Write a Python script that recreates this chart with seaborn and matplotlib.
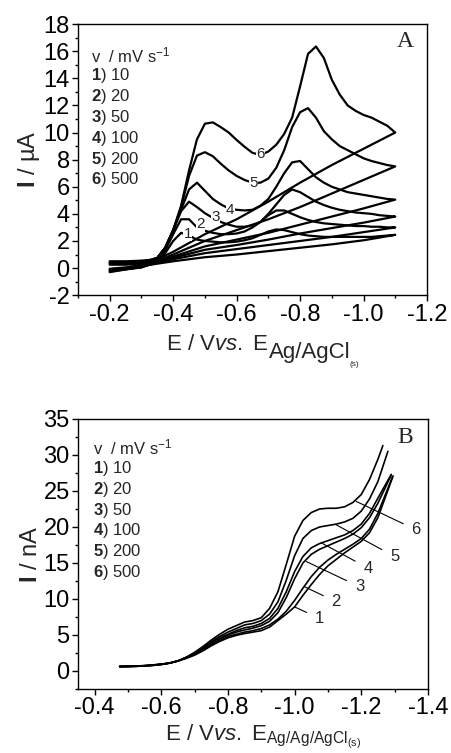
import numpy as np
import pandas as pd
import seaborn as sns
import matplotlib.pyplot as plt
from matplotlib.ticker import MultipleLocator

sns.set_style("ticks")
plt.rcParams['font.family'] = ['Liberation Sans', 'DejaVu Sans']
plt.rcParams['axes.unicode_minus'] = False
plt.rcParams['mathtext.fontset'] = 'custom'
plt.rcParams['mathtext.rm'] = 'Liberation Sans'
plt.rcParams['mathtext.it'] = 'Liberation Sans:italic'
plt.rcParams['mathtext.bf'] = 'Liberation Sans:bold'

# ---------------- Panel A: cyclic voltammograms (I / uA) ----------------
rates = [10, 20, 50, 100, 200, 500]

# forward scan potentials, -0.200 ... -1.100 V
E_A_fwd = [-0.200, -0.225, -0.250, -0.275, -0.300, -0.325, -0.350, -0.375, -0.400,
           -0.425, -0.450, -0.475, -0.500, -0.525, -0.550, -0.575, -0.600, -0.625,
           -0.650, -0.675, -0.700, -0.725, -0.750, -0.775, -0.800, -0.825, -0.850,
           -0.875, -0.900, -0.925, -0.950, -0.975, -1.000, -1.025, -1.050, -1.075, -1.100]
# reverse scan potentials
E_A_rev = [-1.1, -1.0, -0.9, -0.8, -0.7, -0.6, -0.5, -0.4, -0.3, -0.2]

fwd_1 = [0.25, 0.25, 0.25, 0.27, 0.30, 0.35, 0.55, 1.10, 2.00, 2.60, 2.40, 2.10, 2.00,
         1.95, 1.90, 1.90, 1.95, 2.05, 2.20, 2.45, 2.70, 2.85, 2.80, 2.65, 2.50, 2.40,
         2.35, 2.30, 2.30, 2.30, 2.30, 2.30, 2.30, 2.30, 2.35, 2.40, 2.45]
fwd_2 = [0.30, 0.30, 0.30, 0.32, 0.35, 0.40, 0.65, 1.30, 2.50, 3.60, 3.60, 3.00, 2.75,
         2.60, 2.50, 2.50, 2.55, 2.70, 3.00, 3.40, 3.90, 4.25, 4.25, 4.00, 3.75, 3.55,
         3.40, 3.30, 3.25, 3.20, 3.15, 3.10, 3.10, 3.05, 3.05, 3.00, 3.00]
fwd_3 = [0.35, 0.35, 0.35, 0.37, 0.40, 0.45, 0.75, 1.50, 2.80, 4.20, 4.90, 4.50, 4.05,
         3.70, 3.40, 3.20, 3.05, 3.05, 3.15, 3.40, 4.00, 4.70, 5.40, 5.80, 5.60, 5.25,
         4.90, 4.65, 4.45, 4.30, 4.20, 4.10, 4.05, 4.00, 3.90, 3.85, 3.80]
fwd_4 = [0.40, 0.40, 0.40, 0.42, 0.45, 0.50, 0.75, 1.50, 2.80, 4.30, 5.80, 6.30, 5.70,
         5.10, 4.70, 4.40, 4.30, 4.25, 4.30, 4.60, 5.10, 6.00, 7.00, 7.80, 7.90, 7.30,
         6.70, 6.30, 6.00, 5.80, 5.60, 5.50, 5.40, 5.30, 5.20, 5.10, 5.05]
fwd_5 = [0.45, 0.45, 0.45, 0.47, 0.50, 0.55, 0.75, 1.50, 2.80, 4.50, 6.80, 8.30, 8.55,
         8.25, 7.70, 7.20, 6.80, 6.50, 6.30, 6.30, 6.60, 7.40, 8.70, 10.4, 11.5, 11.8,
         11.1, 10.1, 9.50, 9.00, 8.70, 8.40, 8.10, 7.90, 7.75, 7.60, 7.50]
fwd_6 = [0.50, 0.50, 0.50, 0.52, 0.55, 0.60, 0.75, 1.50, 2.80, 4.60, 7.20, 9.50, 10.65,
         10.75, 10.4, 10.0, 9.45, 8.95, 8.50, 8.35, 8.60, 9.10, 9.90, 11.1, 13.4, 15.8,
         16.35, 15.5, 13.9, 12.8, 12.0, 11.6, 11.3, 11.1, 10.8, 10.5, 10.0]

rev_1 = [2.45, 2.05, 1.75, 1.50, 1.25, 1.00, 0.80, 0.50, 0.15, -0.05]
rev_2 = [3.00, 2.65, 2.30, 2.00, 1.70, 1.40, 1.10, 0.65, 0.10, -0.10]
rev_3 = [3.80, 3.35, 2.95, 2.55, 2.10, 1.70, 1.35, 0.75, 0.10, -0.15]
rev_4 = [5.05, 4.40, 3.80, 3.20, 2.60, 2.10, 1.60, 0.85, 0.05, -0.20]
rev_5 = [7.50, 6.50, 5.50, 4.50, 3.60, 2.80, 2.00, 1.00, 0.05, -0.25]
rev_6 = [10.0, 8.80, 7.60, 6.30, 4.90, 3.60, 2.50, 1.20, 0.10, -0.30]

fwd_A = [fwd_1, fwd_2, fwd_3, fwd_4, fwd_5, fwd_6]
rev_A = [rev_1, rev_2, rev_3, rev_4, rev_5, rev_6]

# ---------------- Panel B: linear sweeps (I / nA) ----------------
E_B = [-0.475, -0.500, -0.525, -0.550, -0.575, -0.600, -0.625, -0.650, -0.675, -0.700,
       -0.725, -0.750, -0.775, -0.800, -0.825, -0.850, -0.875, -0.900, -0.925, -0.950,
       -0.975, -1.000, -1.025, -1.050, -1.075, -1.100, -1.125, -1.150, -1.175, -1.200,
       -1.225, -1.250]
B_1 = [0.65, 0.66, 0.69, 0.75, 0.84, 0.96, 1.1, 1.4, 1.75, 2.2, 2.8, 3.5, 4.1, 4.6, 4.95,
       5.2, 5.4, 5.6, 6.1, 7.0, 7.9, 8.9, 10.5, 12.0, 13.4, 14.6, 15.5, 16.4, 17.2, 18.0,
       19.2, 21.3]
B_2 = [0.64, 0.65, 0.68, 0.74, 0.83, 0.95, 1.1, 1.4, 1.8, 2.3, 2.9, 3.6, 4.2, 4.8, 5.1,
       5.4, 5.6, 5.9, 6.4, 7.2, 8.3, 9.8, 11.5, 13.1, 14.4, 15.4, 16.2, 16.9, 17.6, 18.4,
       19.7, 21.9]
B_3 = [0.63, 0.64, 0.67, 0.73, 0.82, 0.94, 1.1, 1.4, 1.85, 2.4, 3.0, 3.7, 4.4, 5.0, 5.4,
       5.7, 5.95, 6.3, 6.9, 8.1, 10.2, 12.8, 15.0, 16.2, 16.9, 17.4, 17.9, 18.4, 19.0, 19.9,
       21.3, 23.3]
B_4 = [0.62, 0.63, 0.66, 0.72, 0.80, 0.92, 1.1, 1.4, 1.9, 2.4, 3.1, 3.9, 4.6, 5.1, 5.6,
       6.0, 6.2, 6.6, 7.3, 8.7, 11.0, 13.8, 15.9, 17.1, 17.7, 18.1, 18.5, 18.9, 19.5, 20.4,
       21.9, 24.0]
B_5 = [0.60, 0.62, 0.65, 0.70, 0.78, 0.90, 1.1, 1.4, 1.9, 2.5, 3.3, 4.1, 4.8, 5.4, 5.9,
       6.4, 6.6, 7.0, 7.9, 9.6, 12.6, 16.0, 18.4, 19.5, 20.0, 20.2, 20.4, 20.7, 21.2, 22.2,
       23.9, 26.3]
B_6 = [0.60, 0.62, 0.65, 0.70, 0.78, 0.90, 1.1, 1.4, 1.9, 2.6, 3.4, 4.3, 5.1, 5.8, 6.3,
       6.8, 7.0, 7.4, 8.7, 11.0, 14.8, 18.7, 20.9, 22.0, 22.5, 22.6, 22.6, 22.8, 23.4, 24.5,
       26.6, 29.4]
# last point of each sweep
B_end_E = [-1.295, -1.295, -1.29, -1.29, -1.28, -1.265]
B_end_I = [27.0, 27.1, 27.2, 27.3, 30.5, 31.3]
curves_B = [B_1, B_2, B_3, B_4, B_5, B_6]

# long tables for seaborn
rowsA = []
for k in range(6):
    for e, i in zip(E_A_fwd + E_A_rev, fwd_A[k] + rev_A[k]):
        rowsA.append((k + 1, e, i))
dfA = pd.DataFrame(rowsA, columns=["curve", "E", "I"])

rowsB = []
for k in range(6):
    for e, i in zip(E_B + [B_end_E[k]], curves_B[k] + [B_end_I[k]]):
        rowsB.append((k + 1, e, i))
dfB = pd.DataFrame(rowsB, columns=["curve", "E", "I"])

fig = plt.figure(figsize=(4.52, 7.53), dpi=100)
axA = fig.add_axes([0.1726, 0.608, 0.772, 0.360])
axB = fig.add_axes([0.1726, 0.085, 0.774, 0.3586])

sns.lineplot(data=dfA, x="E", y="I", units="curve", estimator=None, sort=False,
             color="black", lw=1.6, ax=axA)
sns.lineplot(data=dfB, x="E", y="I", units="curve", estimator=None, sort=False,
             color="black", lw=1.2, ax=axB)

for ax in (axA, axB):
    for s in ax.spines.values():
        s.set_visible(True)
        s.set_linewidth(1.0)
        s.set_color("black")
    ax.tick_params(which="both", direction="out", width=1, colors="black",
                   labelsize=17, pad=2, top=False, right=False)
    ax.tick_params(which="major", length=4)
    ax.tick_params(which="minor", length=2.5)

axA.set_xlim(-0.1, -1.2)
axA.set_ylim(-2, 18)
axA.xaxis.set_major_locator(MultipleLocator(0.2))
axA.xaxis.set_minor_locator(MultipleLocator(0.1))
axA.yaxis.set_major_locator(MultipleLocator(2))
axA.yaxis.set_minor_locator(MultipleLocator(1))

axB.set_xlim(-0.35, -1.4)
axB.set_ylim(-2.5, 35)
axB.xaxis.set_major_locator(MultipleLocator(0.2))
axB.xaxis.set_minor_locator(MultipleLocator(0.1))
axB.yaxis.set_major_locator(MultipleLocator(5))
axB.yaxis.set_minor_locator(MultipleLocator(2.5))

axA.set_ylabel(r"$\mathbf{I}$ / µA", fontsize=17, labelpad=1)
axB.set_ylabel(r"$\mathbf{I}$ / nA", fontsize=17, labelpad=1)

axA.set_xlabel(r"E / V$\it{vs.}$ E", fontsize=16, labelpad=6)
axA.xaxis.label.set_x(0.4)
subA = axA.annotate("Ag/AgCl", xy=(1, 0), xycoords=axA.xaxis.label,
                    xytext=(0, 9), textcoords="offset points",
                    ha="left", va="top", fontsize=16)
axA.annotate("(s)", xy=(1, 0), xycoords=subA, xytext=(-1, 2), textcoords="offset points",
             ha="left", va="top", fontsize=6)
axB.set_xlabel(r"E / V$\it{vs.}$ E$_{\rm Ag/Ag/AgCl_{(s)}}$", fontsize=16, labelpad=2)
axB.xaxis.label.set_x(0.53)

# scan-rate key
key_lines = [r"v  / mV s$^{-1}$"] + [r"$\mathbf{%d}$) %d" % (k + 1, r) for k, r in enumerate(rates)]
for ax, x0, y0 in ((axA, 0.037, 0.886), (axB, 0.043, 0.893)):
    for j, t in enumerate(key_lines):
        ax.text(x0, y0 - 0.0768 * j, t, transform=ax.transAxes, fontsize=12,
                ha="left", va="center")

axA.text(0.937, 0.934, "A", transform=axA.transAxes, fontsize=17,
         family="Liberation Serif", ha="center", va="center")
axB.text(0.934, 0.933, "B", transform=axB.transAxes, fontsize=17,
         family="Liberation Serif", ha="center", va="center")

# curve numbers, panel A (sit on the curves)
labA_E = [-0.446, -0.486, -0.533, -0.58, -0.653, -0.675]
labA_I = [2.55, 3.24, 3.78, 4.3, 6.3, 8.4]
for k in range(6):
    axA.text(labA_E[k], labA_I[k], str(k + 1), fontsize=11, ha="center", va="center",
             bbox=dict(facecolor="white", edgecolor="none", pad=0.3), zorder=5)

# curve numbers, panel B (leader lines)
labB_from = [(-1.0, 8.9), (-1.03, 11.7), (-1.035, 15.2), (-1.08, 17.8), (-1.125, 20.3), (-1.185, 23.55)]
labB_to = [(-1.075, 7.3), (-1.125, 9.6), (-1.195, 11.7), (-1.22, 14.3), (-1.30, 15.9), (-1.365, 19.6)]
for k in range(6):
    axB.annotate(str(k + 1), xy=labB_from[k], xytext=labB_to[k], fontsize=12,
                 ha="center", va="center",
                 arrowprops=dict(arrowstyle="-", lw=0.8, color="black", shrinkA=4, shrinkB=0))

fig.savefig("out.png", dpi=100)
